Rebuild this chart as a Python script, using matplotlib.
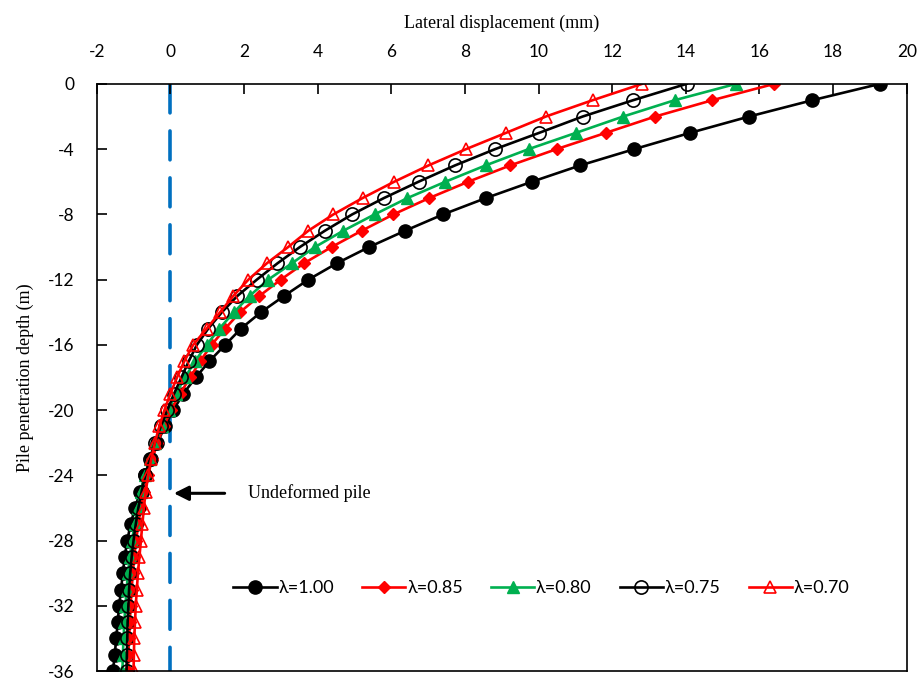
import matplotlib
matplotlib.use("Agg")
import matplotlib.pyplot as plt
import numpy as np

plt.rcParams["axes.unicode_minus"] = False

depth = [-d for d in range(0, 37)]

lam_100 = [19.27, 17.44, 15.72, 14.12, 12.60, 11.13, 9.82, 8.57, 7.41, 6.38,
           5.40, 4.52, 3.75, 3.09, 2.46, 1.92, 1.49, 1.06, 0.69, 0.35,
           0.08, -0.15, -0.35, -0.52, -0.68, -0.82, -0.96, -1.08, -1.17, -1.24,
           -1.29, -1.34, -1.39, -1.43, -1.47, -1.51, -1.56]
lam_085 = [16.40, 14.72, 13.17, 11.83, 10.49, 9.23, 8.09, 7.03, 6.06, 5.20,
           4.38, 3.63, 3.00, 2.42, 1.89, 1.49, 1.12, 0.81, 0.54, 0.26,
           0.02, -0.18, -0.35, -0.49, -0.61, -0.71, -0.80, -0.87, -0.93, -0.98,
           -1.02, -1.05, -1.08, -1.10, -1.12, -1.14, -1.15]
lam_080 = [15.36, 13.70, 12.30, 11.02, 9.73, 8.56, 7.47, 6.44, 5.55, 4.70,
           3.93, 3.30, 2.66, 2.15, 1.73, 1.33, 0.99, 0.67, 0.40, 0.15,
           -0.05, -0.24, -0.41, -0.56, -0.69, -0.80, -0.89, -0.97, -1.04, -1.10,
           -1.15, -1.19, -1.22, -1.25, -1.27, -1.29, -1.30]
lam_075 = [14.02, 12.57, 11.20, 10.02, 8.82, 7.73, 6.74, 5.80, 4.94, 4.20,
           3.52, 2.91, 2.35, 1.82, 1.40, 1.03, 0.72, 0.50, 0.30, 0.10,
           -0.08, -0.26, -0.42, -0.56, -0.68, -0.78, -0.87, -0.94, -1.00, -1.05,
           -1.09, -1.12, -1.14, -1.16, -1.17, -1.18, -1.19]
lam_070 = [12.81, 11.47, 10.20, 9.12, 8.03, 7.01, 6.08, 5.22, 4.43, 3.75,
           3.20, 2.62, 2.12, 1.71, 1.35, 0.99, 0.62, 0.38, 0.18, 0.00,
           -0.16, -0.30, -0.42, -0.52, -0.60, -0.67, -0.72, -0.76, -0.80, -0.84,
           -0.88, -0.91, -0.94, -0.96, -0.98, -0.99, -1.00]

labels = ["λ=1.00", "λ=0.85", "λ=0.80", "λ=0.75", "λ=0.70"]
series = [lam_100, lam_085, lam_080, lam_075, lam_070]

x_ticks = list(range(-2, 21, 2))
y_ticks = list(range(0, -37, -4))

styles = [
    dict(color="black", marker="o", ms=9.5, mfc="black", mec="black"),
    dict(color="#FF0000", marker="D", ms=6.5, mfc="#FF0000", mec="#FF0000"),
    dict(color="#00B050", marker="^", ms=9, mfc="#00B050", mec="#00B050"),
    dict(color="black", marker="o", ms=9.5, mfc="none", mec="black", mew=1.2),
    dict(color="#FF0000", marker="^", ms=9, mfc="none", mec="#FF0000", mew=1.2),
]

fig = plt.figure(figsize=(9.21, 6.82), dpi=100)
ax = fig.add_axes([0.105, 0.016, 0.8795, 0.861])

for vals, lab, st in zip(series, labels, styles):
    ax.plot(vals, depth, label=lab, lw=1.9, **st)

# undeformed pile reference line
ax.plot([0, 0], [0, -36], color="#0070C0", lw=2.6, linestyle=(0, (8, 5)),
        dash_capstyle="round", zorder=1)

ax.annotate("", xy=(0.02, -25.1), xytext=(1.55, -25.1),
            arrowprops=dict(arrowstyle="-|>", color="black", lw=2.2,
                            mutation_scale=22))
ax.text(2.1, -25.1, "Undeformed pile", fontsize=13, family="Liberation Serif",
        va="center", ha="left")

ax.set_xlim(-2, 20)
ax.set_ylim(-36, 0)
ax.set_xticks(x_ticks)
ax.set_yticks(y_ticks)
ax.xaxis.tick_top()
ax.xaxis.set_label_position("top")
ax.tick_params(axis="both", direction="in", length=7, width=1.2,
               labelsize=12.5)
ax.tick_params(axis="x", pad=17)
ax.tick_params(axis="y", pad=16)
for lbl in ax.get_xticklabels() + ax.get_yticklabels():
    lbl.set_family("Lato")
for sp in ax.spines.values():
    sp.set_linewidth(1.2)

ax.set_xlabel("Lateral displacement (mm)", fontsize=13,
              family="Liberation Serif", labelpad=12)
ax.set_ylabel("Pile penetration depth (m)", fontsize=13,
              family="Liberation Serif", labelpad=10)

leg = ax.legend(loc="center", bbox_to_anchor=(0.549, 0.141), ncol=5,
                frameon=False, handlelength=2.4, columnspacing=1.55,
                handletextpad=0.1, prop={"family": "Lato", "size": 13})

fig.savefig("out.png", dpi=100)
